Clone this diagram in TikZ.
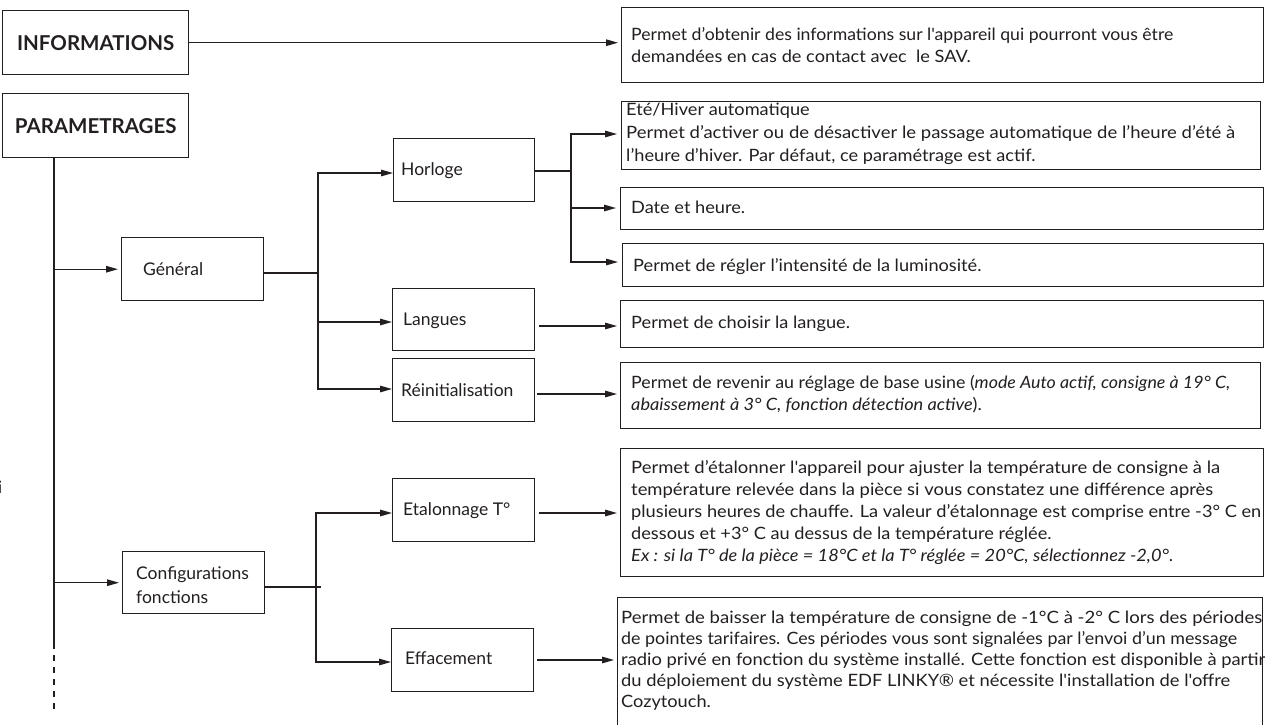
\documentclass[tikz,border=0pt]{standalone}
\usepackage{fontspec}
\usepackage{graphicx}
\newfontfamily\txt{Lato}
\usetikzlibrary{arrows.meta}
\definecolor{ink}{RGB}{35,31,32}
\newcommand\fw[2]{\resizebox{#1pt}{\height}{#2}}
\newcommand\sx[1]{\scalebox{1.07}[1]{#1}}
\begin{document}
\begin{tikzpicture}[x=1pt,y=-1pt,
  ln/.style={draw=ink,line width=1.3pt,line cap=rect},
  arr/.style={draw=ink,line width=1.3pt,-{Triangle[length=12pt,width=6.5pt]}},
  box/.style={draw=ink,line width=1.4pt,rectangle,anchor=north west,inner sep=0pt},
  desc/.style={font=\txt\fontsize{17}{20}\selectfont,text=ink,anchor=base west,inner sep=0pt},
  lbl/.style={font=\txt\fontsize{17.5}{22}\selectfont,text=ink,anchor=base west,inner sep=0pt},
  hdr/.style={font=\txt\bfseries\fontsize{20.5}{24}\selectfont,text=ink,inner sep=0pt}]
\useasboundingbox (0,0) rectangle (1266,724);
\fill[white] (0,0) rectangle (1266,724);

% left column
\node[box,minimum width=186pt,minimum height=64pt] (info) at (2,10) {};
\node[hdr] (infoT) at (info.center) {INFORMATIONS};
\node[box,minimum width=186pt,minimum height=64pt] (param) at (2,93) {};
\node[hdr] (paramT) at (param.center) {PARAMETRAGES};

\node[box,minimum width=142pt,minimum height=63pt] (gen) at (121,237) {};
\node[lbl] (genT) at (143,275) {Général};
\node[box,minimum width=142pt,minimum height=62pt] (conf) at (122,551) {};
\node[lbl] (confT1) at (136,579) {Configurations};
\node[lbl] (confT2) at (136,603) {fonctions};

\node[box,minimum width=141pt,minimum height=63pt] (hor) at (393,138) {};
\node[lbl] (horT) at (401,175) {Horloge};
\node[box,minimum width=142pt,minimum height=62pt] (lan) at (392,288) {};
\node[lbl] (lanT) at (403,325) {Langues};
\node[box,minimum width=142pt,minimum height=63pt] (rei) at (392,358) {};
\node[lbl] (reiT) at (401,396) {Réinitialisation};
\node[box,minimum width=142pt,minimum height=63pt] (eta) at (392,478) {};
\node[lbl] (etaT) at (403,515) {Etalonnage T°};
\node[box,minimum width=142pt,minimum height=63pt] (eff) at (391,628) {};
\node[lbl] (effT) at (405,664) {Effacement};

% description boxes
\node[box,minimum width=642pt,minimum height=75pt] (infod) at (621,7) {};
\node[box,minimum width=639pt,minimum height=68pt] (ete) at (621,101) {};
\node[box,minimum width=643pt,minimum height=42pt] (date) at (620,187) {};
\node[box,minimum width=641pt,minimum height=43pt] (lumi) at (622,243) {};
\node[box,minimum width=643pt,minimum height=47pt] (land) at (620,300) {};
\node[box,minimum width=640pt,minimum height=66pt] (reid) at (620,362) {};
\node[box,minimum width=643pt,minimum height=128pt] (etad) at (620,448) {};
\node[box,minimum width=645pt,minimum height=132pt] (effd) at (617,597) {};

\node[desc] (infod1) at (631,40) {\fw{542}{Permet d’obtenir des informations sur l'appareil qui pourront vous être}};
\node[desc] (infod2) at (631,62) {\sx{demandées en cas de contact avec\ \ le SAV.}};

\node[desc] (ete1) at (626,115) {\sx{Eté/Hiver automatique}};
\node[desc] (ete2) at (626,138) {\fw{609}{Permet d’activer ou de désactiver le passage automatique de l’heure d’été à}};
\node[desc] (ete3) at (626,161) {\sx{l’heure d’hiver. Par défaut, ce paramétrage est actif.}};

\node[desc] (date1) at (631,213) {\sx{Date et heure.}};
\node[desc] (lumi1) at (633,271) {\sx{Permet de régler l’intensité de la luminosité.}};
\node[desc] (land1) at (631,328) {\sx{Permet de choisir la langue.}};

\node[desc] (reid1) at (631,388) {\fw{599}{Permet de revenir au réglage de base usine (\textit{mode Auto actif, consigne à 19° C,}}};
\node[desc] (reid2) at (631,410) {\sx{\textit{abaissement à 3° C, fonction détection active}).}};

\node[desc] (etad1) at (631,473) {\fw{589}{Permet d’étalonner l'appareil pour ajuster la température de consigne à la}};
\node[desc] (etad2) at (631,495) {\fw{582}{température relevée dans la pièce si vous constatez une différence après}};
\node[desc] (etad3) at (631,517) {\fw{630}{plusieurs heures de chauffe. La valeur d’étalonnage est comprise entre -3° C en}};
\node[desc] (etad4) at (631,539) {\sx{dessous et +3° C au dessus de la température réglée.}};
\node[desc] (etad5) at (631,561) {\fw{542}{\textit{Ex : si la T° de la pièce = 18°C et la T° réglée = 20°C, sélectionnez -2,0°}.}};

\node[desc] (effd1) at (621,623) {\fw{641}{Permet de baisser la température de consigne de -1°C à -2° C lors des périodes}};
\node[desc] (effd2) at (621,644) {\fw{616}{de pointes tarifaires. Ces périodes vous sont signalées par l’envoi d’un message}};
\node[desc] (effd3) at (621,665) {\fw{644}{radio privé en fonction du système installé. Cette fonction est disponible à partir}};
\node[desc] (effd4) at (621,686) {\fw{609}{du déploiement du système EDF LINKY® et nécessite l'installation de l'offre}};
\node[desc] (effd5) at (621,707) {\sx{Cozytouch.}};

\node[desc,anchor=base east] (stray) at (2.5,493) {i};

% connectors
\draw[arr] (info.east) -- ([xshift=-3pt]infod.west |- info.east);

\coordinate (t0) at ([xshift=52pt]param.south west);
\coordinate (t1) at (54,643);
\coordinate (t2) at (54,713);
\draw[ln] (t0) -- (t1);
\draw[ln,line cap=butt,dash pattern=on 6pt off 6pt] (t1) -- (t2);
\draw[arr] (t0 |- gen.west) -- ([xshift=-3pt]gen.west);
\draw[arr] (t0 |- conf.west) -- ([xshift=-3pt]conf.west);

\coordinate (ja) at (318,173);
\coordinate (jb) at (318,273);
\coordinate (jc) at (318,322);
\coordinate (jd) at (318,389);
\draw[ln] (ja) -- (jd);
\draw[ln] (gen.east |- jb) -- (jb);
\draw[arr] (ja) -- (hor.west |- ja);
\draw[arr] (jc) -- (lan.west |- jc);
\draw[arr] (jd) -- (rei.west |- jd);

\coordinate (k1) at (571,134);
\coordinate (k2) at (571,171);
\coordinate (k3) at (571,208);
\coordinate (k4) at (571,262);
\draw[ln] (k1) -- (k4);
\draw[ln] (hor.east |- k2) -- (k2);
\draw[arr] (k1) -- ([xshift=-4pt]ete.west |- k1);
\draw[arr] (k3) -- ([xshift=-4pt]date.west |- k3);
\draw[arr] (k4) -- ([xshift=-4pt]lumi.west |- k4);

\coordinate (lo) at (539,326);
\coordinate (ro) at (537,394);
\coordinate (eo) at (539,513);
\coordinate (fo) at (537,660);
\draw[arr] (lo) -- ([xshift=-3pt]land.west |- lo);
\draw[arr] (ro) -- ([xshift=-3pt]reid.west |- ro);
\draw[arr] (eo) -- ([xshift=-3pt]etad.west |- eo);
\draw[arr] (fo) -- ([xshift=-3pt]effd.west |- fo);

\coordinate (c0) at (320,587);
\coordinate (c1) at (316,513);
\coordinate (c2) at (316,662);
\draw[ln] (conf.east |- c0) -- (c0);
\draw[ln] (c1) -- (c2);
\draw[arr] (c1) -- (eta.west |- c1);
\draw[arr] (c2) -- (eff.west |- c2);
\end{tikzpicture}
\end{document}
